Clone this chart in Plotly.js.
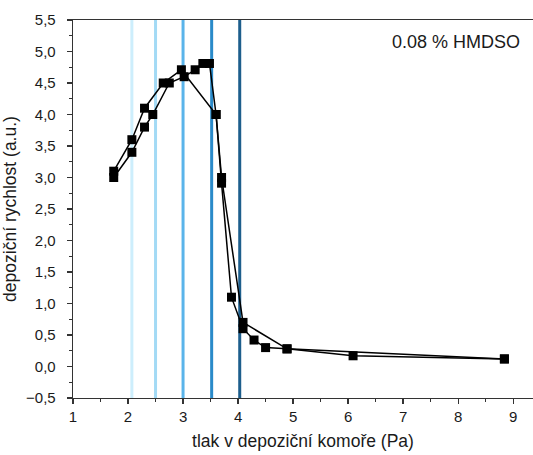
<!DOCTYPE html>
<html>
<head>
<meta charset="utf-8">
<script src="https://cdn.plot.ly/plotly-3.0.1.min.js"></script>
<style>html,body{margin:0;padding:0;background:#fff;overflow:hidden;}</style>
</head>
<body>
<div id="chart" style="width:533px;height:455px;"></div>
<script>
// Series A (upper path)
const pressureA = [1.74, 2.07, 2.30, 2.64, 2.97, 3.60, 3.70, 3.88, 4.09, 4.29, 4.50, 4.89, 6.09, 8.84];
const rateA     = [3.10, 3.60, 4.10, 4.50, 4.71, 4.00, 2.91, 1.10, 0.60, 0.42, 0.30, 0.28, 0.17, 0.12];
// Series B (lower path)
const pressureB = [1.74, 2.07, 2.30, 2.45, 2.75, 3.02, 3.22, 3.36, 3.48, 3.60, 3.70, 4.09, 4.89, 8.84];
const rateB     = [3.00, 3.40, 3.80, 4.00, 4.50, 4.60, 4.71, 4.81, 4.81, 4.00, 3.00, 0.70, 0.28, 0.12];
// Vertical marker lines
const markerPressures = [2.07, 2.50, 3.00, 3.52, 4.03];
const markerColors = ['#cdeefc', '#a3daf5', '#5ab4ea', '#2a8ac9', '#1d5e8c'];
const annotationText = '0.08 % HMDSO';
const xTitle = 'tlak v depoziční komoře (Pa)';
const yTitle = 'depoziční rychlost (a.u.)';

const traces = [];
markerPressures.forEach((p, i) => {
  traces.push({
    x: [p, p], y: [-0.5, 5.5], mode: 'lines', type: 'scatter',
    line: {color: markerColors[i], width: 3}, hoverinfo: 'skip', showlegend: false
  });
});
[[pressureA, rateA], [pressureB, rateB]].forEach(([xs, ys]) => {
  traces.push({
    x: xs, y: ys, mode: 'lines+markers', type: 'scatter',
    line: {color: '#000', width: 1.5},
    marker: {symbol: 'square', size: 9, color: '#000'},
    showlegend: false, cliponaxis: false
  });
});

const font = {family: 'Liberation Sans, Arial, sans-serif', color: '#1a1a1a'};
const layout = {
  width: 533, height: 455,
  margin: {l: 73, r: 0, t: 20, b: 57},
  paper_bgcolor: '#fff', plot_bgcolor: '#fff',
  separators: ',.',
  font: Object.assign({size: 15}, font),
  xaxis: {
    range: [1, 9.36], dtick: 1, tick0: 1,
    showgrid: false, zeroline: false,
    showline: true, linecolor: '#333', linewidth: 1.3, mirror: true,
    ticks: 'outside', ticklen: 5, tickwidth: 1.3, tickcolor: '#333',
    minor: {dtick: 0.5, ticks: 'outside', ticklen: 3, tickwidth: 1.3, tickcolor: '#333'},
    tickfont: Object.assign({size: 15}, font),
    title: {text: xTitle, font: Object.assign({size: 17.5}, font), standoff: 10}
  },
  yaxis: {
    range: [-0.5, 5.5], dtick: 0.5, tick0: 0, tickformat: '.1f',
    showgrid: false, zeroline: false,
    showline: true, linecolor: '#333', linewidth: 1.3,
    ticks: 'outside', ticklen: 5, tickwidth: 1.3, tickcolor: '#333',
    ticklabelstandoff: 8,
    minor: {dtick: 0.25, ticks: 'outside', ticklen: 3, tickwidth: 1.3, tickcolor: '#333'},
    tickfont: Object.assign({size: 15}, font),
    title: {text: yTitle, font: Object.assign({size: 17.5}, font), standoff: 6}
  },
  annotations: [{
    text: annotationText, xref: 'paper', yref: 'paper',
    x: 0.976, y: 0.942, xanchor: 'right', yanchor: 'middle', showarrow: false,
    font: Object.assign({size: 18}, font)
  }]
};
Plotly.newPlot('chart', traces, layout, {displayModeBar: false, staticPlot: true});
</script>
</body>
</html>
